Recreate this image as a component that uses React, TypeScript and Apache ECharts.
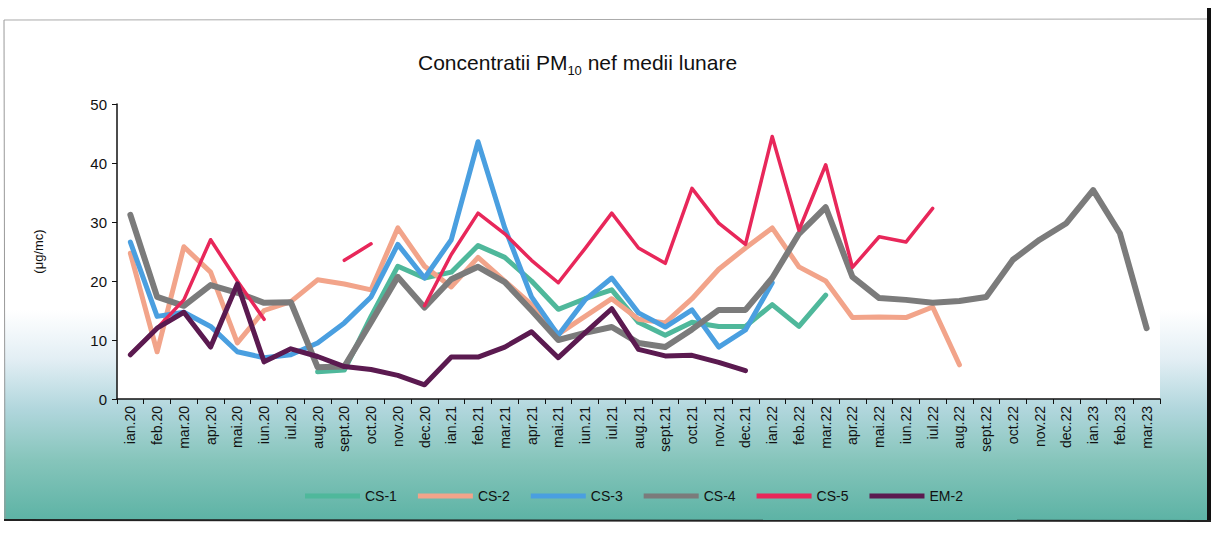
import React, { useEffect, useRef } from "react";
import * as echarts from "echarts";

const categories = [
  "ian.20", "feb.20", "mar.20", "apr.20", "mai.20", "iun.20", "iul.20", "aug.20", "sept.20", "oct.20", "nov.20", "dec.20",
  "ian.21", "feb.21", "mar.21", "apr.21", "mai.21", "iun.21", "iul.21", "aug.21", "sept.21", "oct.21", "nov.21", "dec.21",
  "ian.22", "feb.22", "mar.22", "apr.22", "mai.22", "iun.22", "iul.22", "aug.22", "sept.22", "oct.22", "nov.22", "dec.22",
  "ian.23", "feb.23", "mar.23",
];

const cs1 = [
  null, null, null, null, null, null, null, 4.6, 4.9, 14, 22.5, 20.5,
  21.5, 26, 24, 20, 15.2, 17, 18.5, 13, 10.8, 13, 12.3, 12.3,
  16, 12.3, 17.6,
];
const cs2 = [
  24.7, 8, 25.8, 21.5, 9.5, 15, 16.5, 20.2, 19.5, 18.5, 29, 22.5,
  19, 24, 20, 16, 11, 14, 17, 13.5, 12.9, 17, 22, 25.6,
  29, 22.4, 20, 13.8, 13.9, 13.8, 15.6, 5.8,
];
const cs3 = [
  26.6, 14, 14.7, 12.3, 8, 7, 7.5, 9.5, 12.9, 17.3, 26.2, 20.5,
  27, 43.6, 29, 17.3, 10.8, 16.8, 20.5, 14.6, 12.2, 15.1, 8.8, 11.7,
  19.7,
];
const cs4 = [
  31.2, 17.3, 15.8, 19.3, 18, 16.3, 16.4, 5.4, 5.5, 13, 20.7, 15.5,
  20.3, 22.4, 19.8, 15, 10, 11.2, 12.2, 9.5, 8.8, 11.8, 15.1, 15.1,
  20.5, 28, 32.5, 20.7, 17.1, 16.8, 16.3, 16.6, 17.3, 23.6, 27, 29.8,
  35.4, 28.1, 12,
];
const cs5 = [
  7.6, 12, 16.8, 27, 20, 13.5, null, null, 23.5, 26.3, null, 15.8,
  24.5, 31.5, 28, 23.5, 19.7, 25.5, 31.5, 25.6, 23, 35.7, 29.8, 26.2,
  44.5, 28.6, 39.7, 22.3, 27.5, 26.6, 32.3,
];
const em2 = [
  7.5, 12, 14.7, 8.8, 19.5, 6.3, 8.5, 7.2, 5.5, 5, 4, 2.4,
  7.1, 7.1, 8.8, 11.4, 7, 11.2, 15.3, 8.4, 7.3, 7.4, 6.2, 4.8,
];

const yTicks = { min: 0, max: 50, interval: 10 };

const seriesNames = ["CS-1", "CS-2", "CS-3", "CS-4", "CS-5", "EM-2"];
const seriesData = [cs1, cs2, cs3, cs4, cs5, em2];
const seriesColors = ["#4fb89b", "#f2a48a", "#4a9fe0", "#7b7b7b", "#e8275a", "#5b1a50"];
const seriesWidths = [5, 5, 5, 6, 3.5, 5];

const FONT = "'Liberation Sans', Arial, sans-serif";

export default function App() {
  const ref = useRef<HTMLDivElement>(null);
  useEffect(() => {
    const chart = echarts.init(ref.current!, null, { renderer: "svg" });
    chart.setOption({
      animation: false,
      backgroundColor: "#ffffff",
      textStyle: { fontFamily: FONT },
      title: {
        text: "{a|Concentratii PM}{sub|10}{a| nef medii lunare}",
        left: 413,
        top: 42,
        textStyle: {
          fontFamily: FONT,
          fontWeight: "normal",
          rich: {
            a: { fontSize: 21, color: "#111", fontWeight: "normal", fontFamily: FONT, lineHeight: 30, verticalAlign: "middle" },
            sub: { fontSize: 13, color: "#111", fontWeight: "normal", fontFamily: FONT, lineHeight: 16, verticalAlign: "bottom" },
          },
        },
      },
      graphic: [
        {
          type: "rect",
          z: -100,
          shape: { x: 4, y: 20, width: 1205, height: 500 },
          style: {
            fill: new echarts.graphic.LinearGradient(0, 0, 0, 1, [
              { offset: 0, color: "#ffffff" },
              { offset: 0.58, color: "#ffffff" },
              { offset: 0.68, color: "#e2eef4" },
              { offset: 0.78, color: "#b0d6dc" },
              { offset: 0.88, color: "#86c5bb" },
              { offset: 1, color: "#5db3a5" },
            ]),
          },
        },
        { type: "line", z: 100, shape: { x1: 4, y1: 20, x2: 1207, y2: 19 }, style: { stroke: "#aaaaaa", lineWidth: 1 } },
        { type: "line", z: 100, shape: { x1: 4, y1: 20, x2: 5, y2: 520 }, style: { stroke: "#999999", lineWidth: 1 } },
        { type: "line", z: 100, shape: { x1: 1209, y1: 8, x2: 1209, y2: 522 }, style: { stroke: "#111111", lineWidth: 4 } },
        { type: "line", z: 100, shape: { x1: 4, y1: 520, x2: 1211, y2: 521 }, style: { stroke: "#222222", lineWidth: 2 } },
      ],
      legend: {
        data: seriesNames,
        left: 300,
        top: 484,
        icon: "rect",
        itemWidth: 55,
        itemHeight: 5,
        itemGap: 21,
        textStyle: { fontSize: 14, color: "#111", fontFamily: FONT },
      },
      grid: {
        left: 117,
        top: 104,
        width: 1043,
        height: 295,
        show: true,
        backgroundColor: "#ffffff",
        borderWidth: 0,
      },
      xAxis: {
        type: "category",
        data: categories,
        boundaryGap: true,
        axisLine: { lineStyle: { color: "#111", width: 1.5 } },
        axisTick: { show: true, length: 5, lineStyle: { color: "#111" } },
        axisLabel: { rotate: 90, fontSize: 14, color: "#111", margin: 7, interval: 0, fontFamily: FONT },
        splitLine: { show: false },
      },
      yAxis: {
        type: "value",
        min: yTicks.min,
        max: yTicks.max,
        interval: yTicks.interval,
        name: "(μg/mc)",
        nameLocation: "middle",
        nameRotate: 90,
        nameGap: 72,
        nameTextStyle: { fontSize: 13, color: "#111", fontFamily: FONT },
        axisLine: { show: true, lineStyle: { color: "#111", width: 1.5 } },
        axisTick: { show: true, length: 5, lineStyle: { color: "#111" } },
        axisLabel: { fontSize: 15, color: "#111", margin: 10, fontFamily: FONT },
        splitLine: { show: false },
      },
      series: seriesNames.map((name, i) => ({
        name,
        type: "line",
        data: seriesData[i],
        symbol: "none",
        showSymbol: false,
        connectNulls: false,
        color: seriesColors[i],
        lineStyle: { color: seriesColors[i], width: seriesWidths[i], cap: "round", join: "round" },
        itemStyle: { color: seriesColors[i] },
      })),
    });
    return () => chart.dispose();
  }, []);
  return <div ref={ref} style={{ position: "fixed", left: 0, top: 0, width: 1216, height: 535 }} />;
}
